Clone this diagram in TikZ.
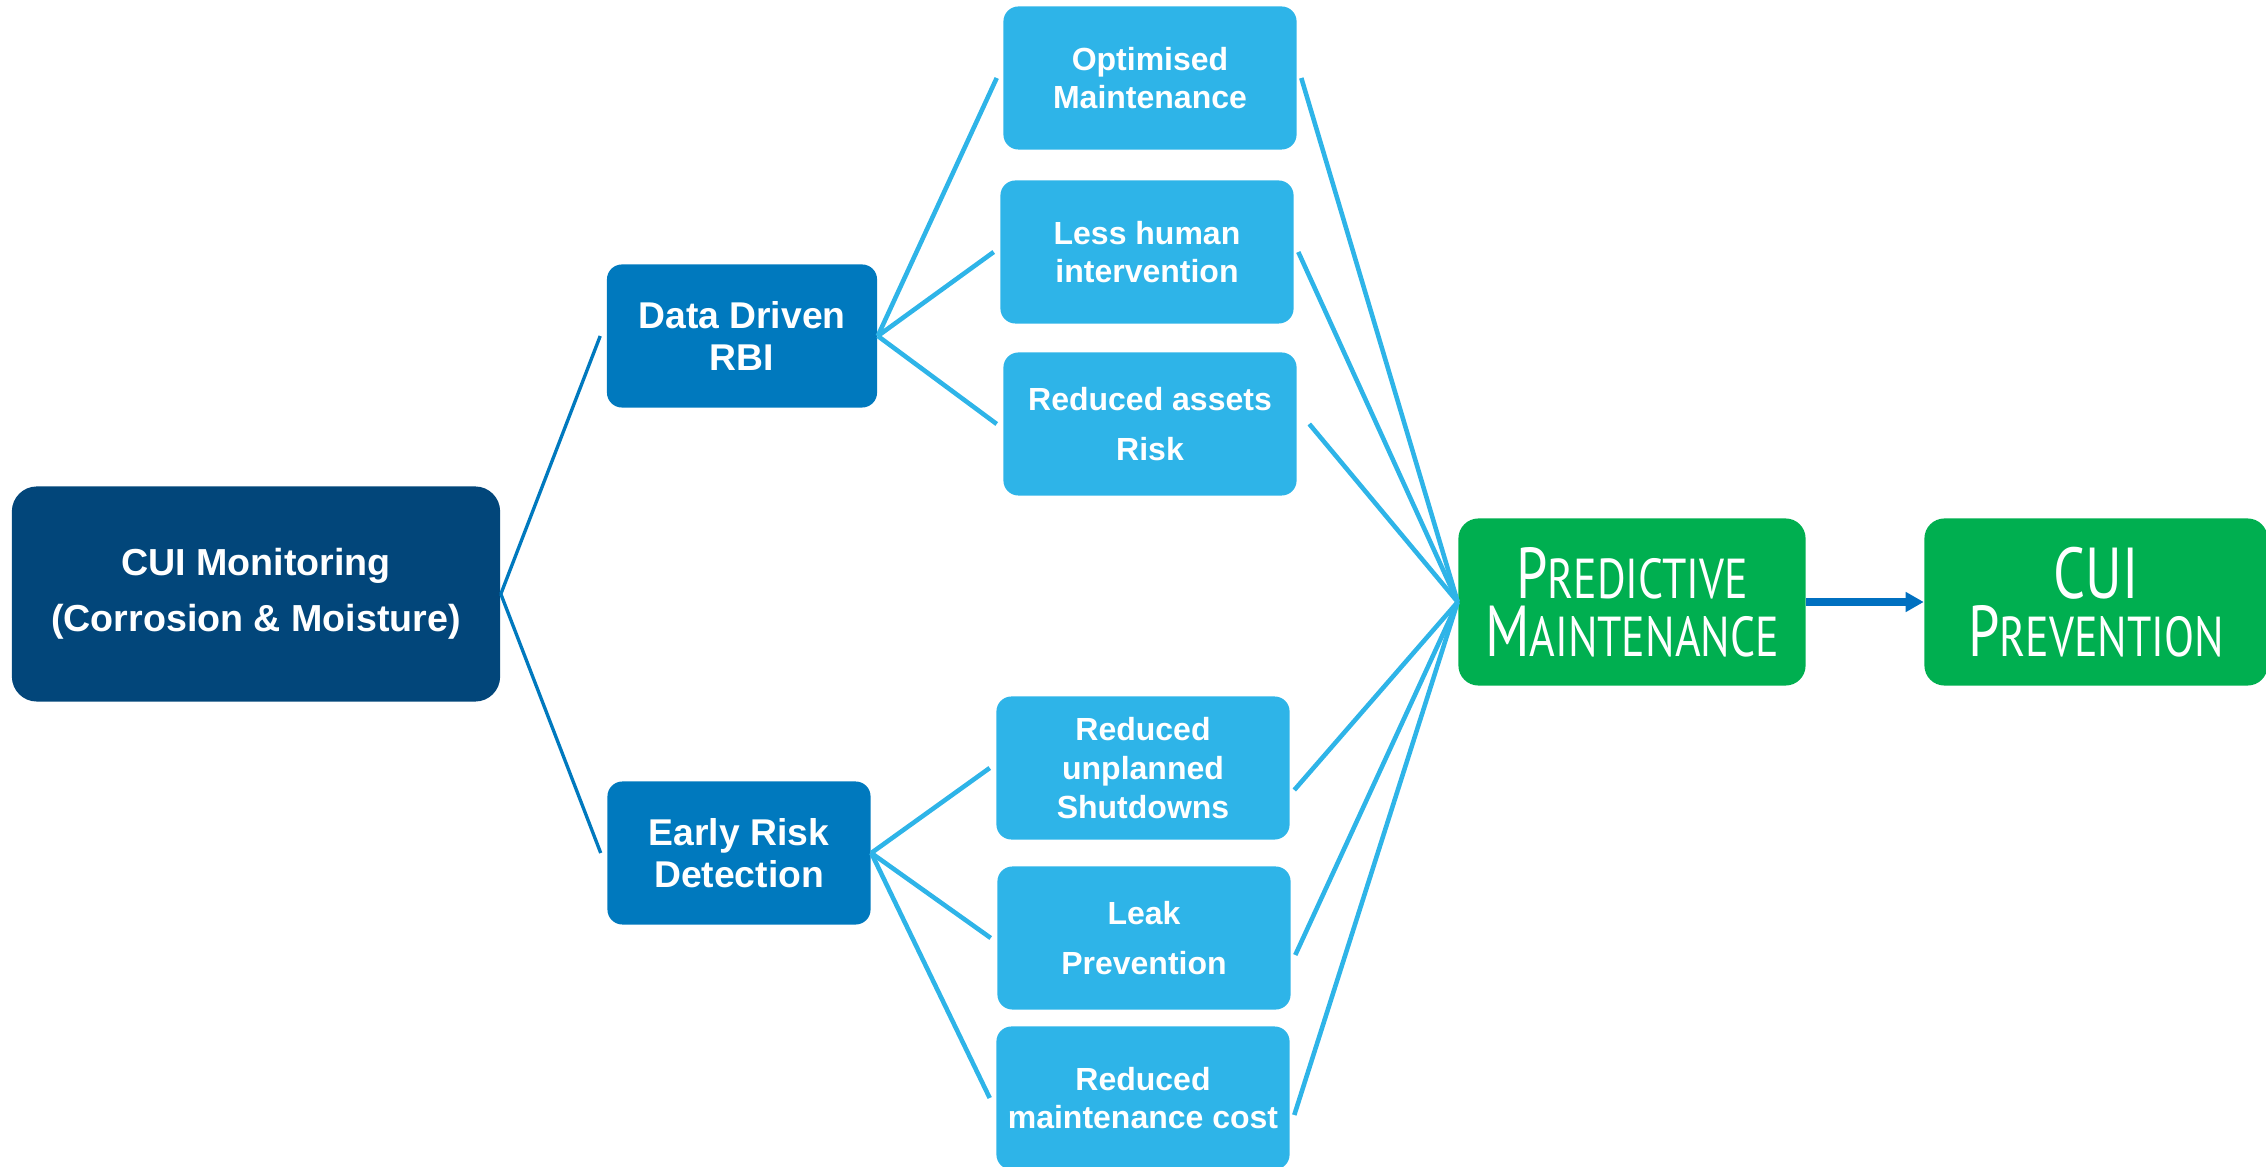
\documentclass[tikz,border=0pt]{standalone}
\usepackage{fontspec}
\setmainfont{Liberation Sans}
\newfontfamily\capsfont[FakeStretch=0.78]{PT Sans}
\usetikzlibrary{positioning,arrows.meta}

\definecolor{navy}{HTML}{02467A}
\definecolor{midblue}{HTML}{0079BE}
\definecolor{skyblue}{HTML}{2EB4E8}
\definecolor{leafgreen}{HTML}{00AF50}
\definecolor{arrowblue}{HTML}{0070C0}

% big first letter, small capitals for the rest
\newcommand{\capword}[2]{{\fontsize{20.5}{16.5}\selectfont #1}{\fontsize{16}{16.5}\selectfont #2}}

\tikzset{
>={Triangle[length=0.18cm,width=0.19cm]},
  box/.style={
    rectangle,
    rounded corners=0.15cm,
    text=white,
    align=center,
    inner sep=0pt},
  rootbox/.style={
    box, fill=navy,
    minimum width=4.88cm,
    minimum height=2.15cm,
    rounded corners=0.25cm,
    font=\bfseries\fontsize{10.7}{15.9}\selectfont},
  branch/.style={
    box, fill=midblue,
    minimum height=1.43cm,
    font=\bfseries\fontsize{10.6}{12}\selectfont},
  benefit/.style={
    box, fill=skyblue,
    minimum width=2.93cm,
    minimum height=1.43cm,
    font=\bfseries\fontsize{9.1}{11}\selectfont},
  goal/.style={
    box, fill=leafgreen,
    minimum width=3.47cm,
    minimum height=1.67cm,
    rounded corners=0.2cm,
    font=\capsfont\fontsize{16}{16.5}\selectfont},
  trunk/.style={draw=midblue, line width=0.95pt},
  twig/.style={draw=skyblue, line width=1.3pt},
  flow/.style={draw=arrowblue, line width=2.4pt, ->},
}

\begin{document}
\begin{tikzpicture}[x=0.01cm, y=-0.01cm]
  \useasboundingbox (0,0) rectangle (2266,1167);

  \node[rootbox] (mon) at (256,594) {CUI Monitoring\\(Corrosion \& Moisture)};
  \node[branch, minimum width=2.70cm] (rbi) at (742,336) {Data Driven\\RBI};
  \node[branch, minimum width=2.63cm] (early) at (739,853) {Early Risk\\Detection};

  \node[benefit] (optm) at (1150,78) {Optimised\\Maintenance};
  \node[benefit] (lesshuman) at (1147,252) {Less human\\intervention};
  \node[benefit] (assetrisk) at (1150,424) {Reduced assets\\[3pt]Risk};
  \node[benefit] (shutdown) at (1143,768) {Reduced\\unplanned\\Shutdowns};
  \node[benefit] (leak) at (1144,938) {Leak\\[3pt]Prevention};
  \node[benefit] (maintcost) at (1143,1098) {Reduced\\maintenance cost};

  \node[goal] (predict) at (1632,602) {\capword{P}{REDICTIVE}\\\capword{M}{AINTENANCE}};
  \node[goal, minimum width=3.43cm] (prevent) at (2096,602) {\capword{CUI}{}\\\capword{P}{REVENTION}};

  % monitoring splits into the two branches
  \draw[trunk] (mon.east) -- ([xshift=-0.06cm]rbi.west);
  \draw[trunk] (mon.east) -- ([xshift=-0.06cm]early.west);

  % branches fan out to the benefits
  \foreach \b in {optm,lesshuman,assetrisk}
    \draw[twig] (rbi.east) -- ([xshift=-0.06cm]\b.west);
  \foreach \b in {shutdown,leak,maintcost}
    \draw[twig] (early.east) -- ([xshift=-0.06cm]\b.west);

  % benefits gather into predictive maintenance
  \foreach \b/\dx/\dy in {optm/4/0, lesshuman/4/0, assetrisk/12/0,
                          shutdown/4/-22, leak/4/-17, maintcost/4/-17}
    \draw[twig] ([xshift=\dx*0.01cm, yshift=\dy*0.01cm]\b.east) -- (predict.west);

  \draw[flow] (predict) -- (prevent);
\end{tikzpicture}
\end{document}
